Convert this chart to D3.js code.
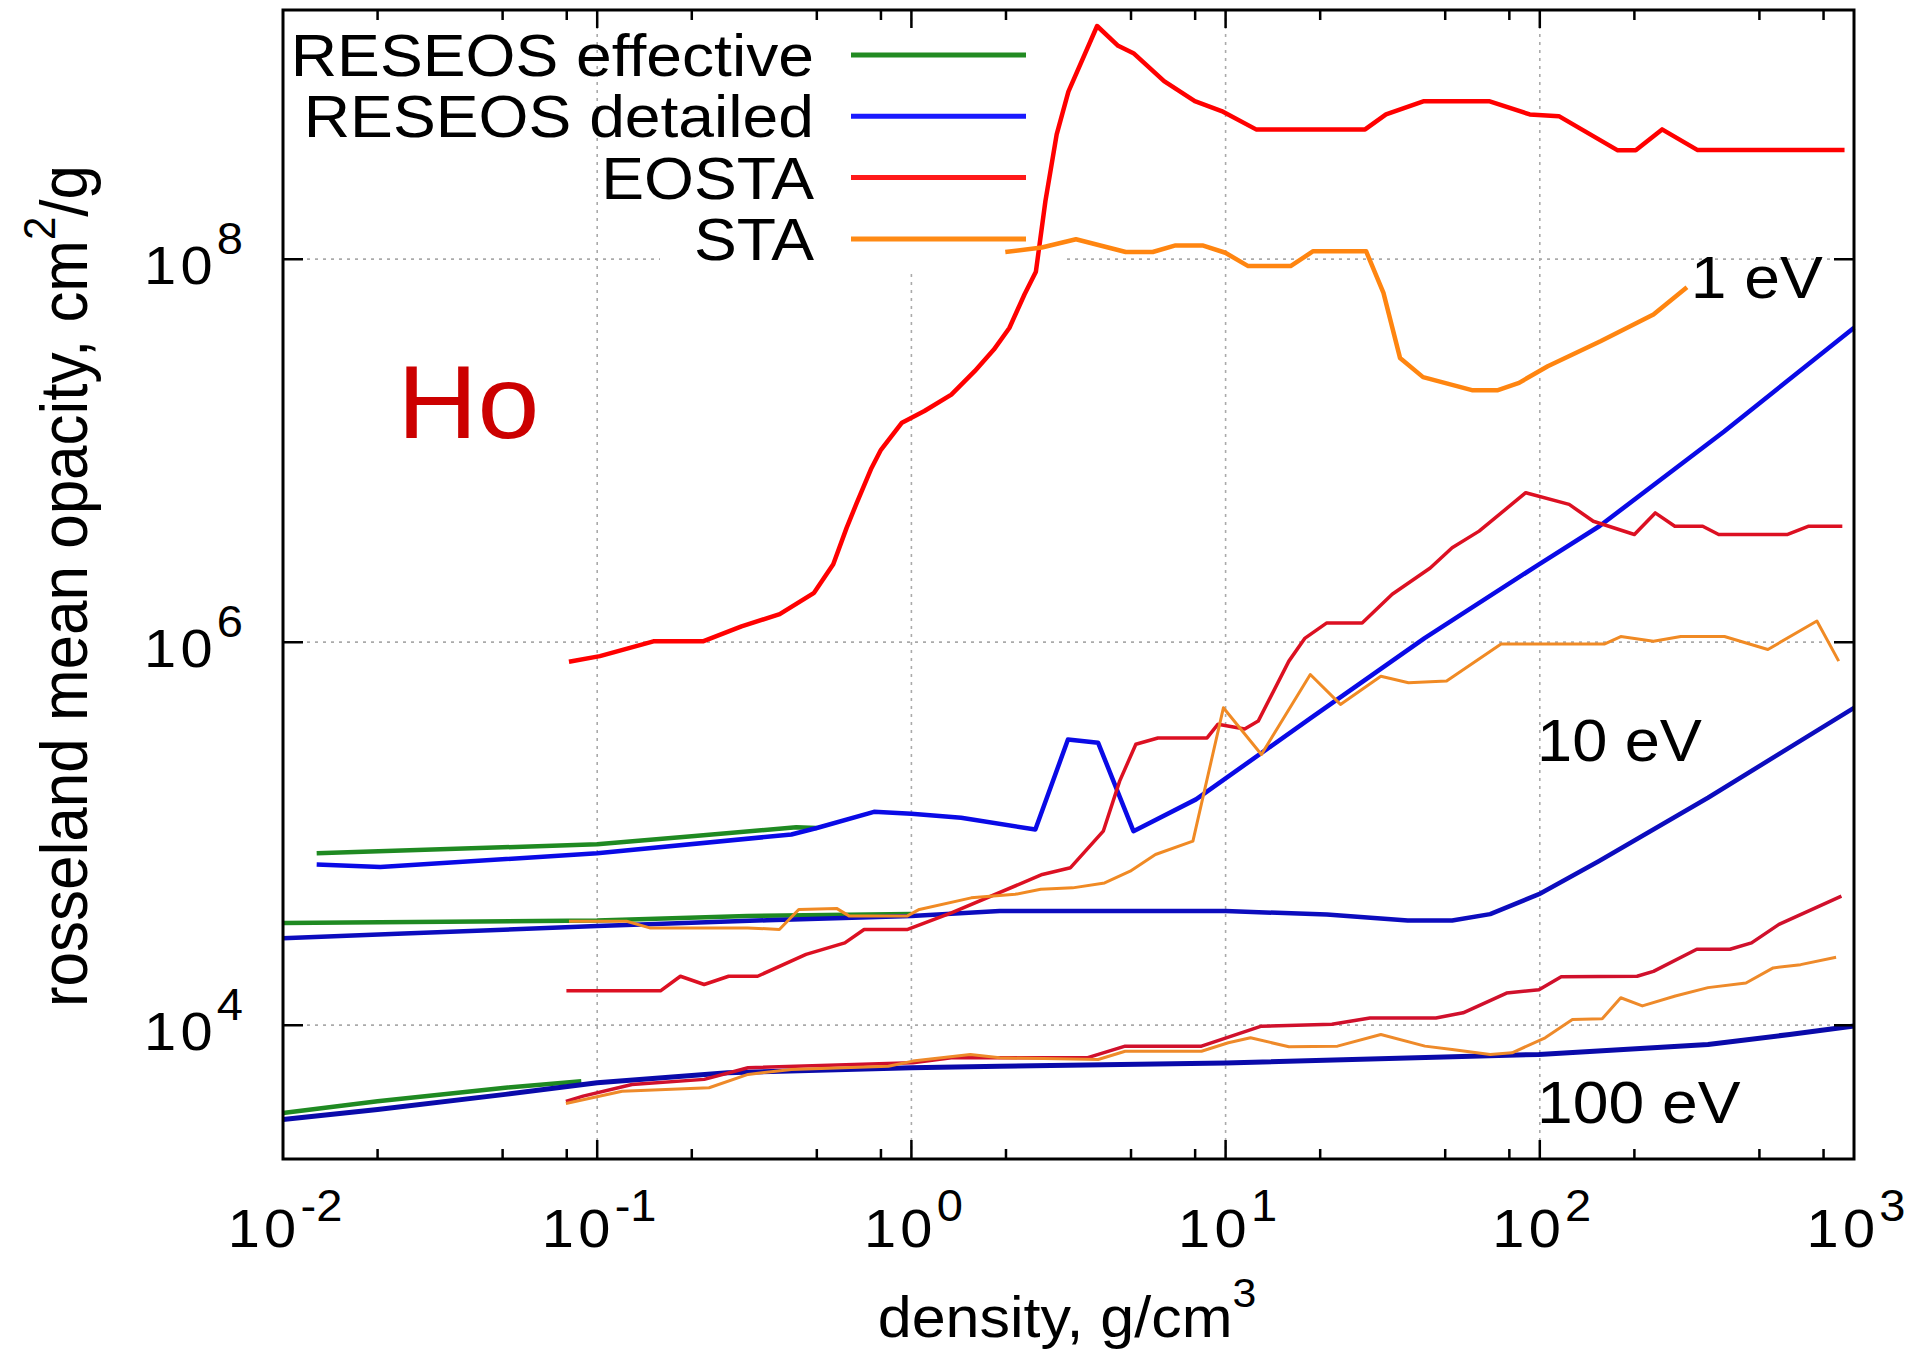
<!DOCTYPE html>
<html>
<head>
<meta charset="utf-8">
<script src="https://cdn.jsdelivr.net/npm/d3@7"></script>
<style>
  body { margin: 0; background: #fff; }
  svg { display: block; font-family: "Liberation Sans", Arial, sans-serif; }
</style>
</head>
<body>
<div id="chart"></div>
<script>
const densityTicks = [1e-2, 1e-1, 1e0, 1e1, 1e2, 1e3]
const densityTickExps = ['-2', '-1', '0', '1', '2', '3']
const minorMultipliers = [2, 5, 8]
const opacityTicks = [1e4, 1e6, 1e8]
const opacityTickExps = ['4', '6', '8']
const seriesNames = ['RESEOS effective', 'RESEOS detailed', 'EOSTA', 'STA']
const temperatureLabels = ['1 eV', '10 eV', '100 eV']
const elementName = 'Ho'

// [density g/cm3, rosseland opacity cm2/g]
const effective1eV = [[0.0128, 7.9e4], [0.1, 8.8e4], [0.2, 9.7e4], [0.43, 1.08e5], [0.5, 1.07e5]]
const detailed1eV = [[0.0128, 6.9e4], [0.0204, 6.7e4], [0.1, 7.9e4], [0.415, 9.9e4], [0.5, 1.07e5],
  [0.76, 1.30e5], [1.0, 1.27e5], [1.44, 1.21e5], [2.48, 1.05e5], [3.15, 3.1e5], [3.93, 2.98e5],
  [5.09, 1.03e5], [8.05, 1.51e5], [18.6, 4.0e5], [43, 1.05e6], [99.4, 2.55e6], [155, 4.04e6],
  [386, 1.26e7], [1000, 4.38e7]]
const eosta1eV = [[0.0813, 7.9e5], [0.102, 8.45e5], [0.151, 1.01e6], [0.217, 1.01e6], [0.288, 1.21e6],
  [0.381, 1.40e6], [0.49, 1.81e6], [0.564, 2.55e6], [0.622, 3.95e6], [0.667, 5.24e6], [0.746, 8.1e6],
  [0.80, 1.01e7], [0.933, 1.40e7], [1.10, 1.61e7], [1.34, 1.96e7], [1.59, 2.6e7], [1.83, 3.37e7],
  [2.05, 4.37e7], [2.29, 6.54e7], [2.49, 8.6e7], [2.67, 2.01e8], [2.90, 4.48e8], [3.16, 7.5e8],
  [3.90, 1.65e9], [4.55, 1.30e9], [5.09, 1.19e9], [6.37, 8.5e8], [7.98, 6.68e8], [9.71, 5.93e8],
  [12.5, 4.76e8], [27.8, 4.76e8], [32.4, 5.7e8], [42.8, 6.68e8], [68.9, 6.68e8], [92.9, 5.7e8],
  [115, 5.58e8], [177, 3.70e8], [202, 3.70e8], [245, 4.76e8], [318, 3.71e8], [933, 3.71e8]]
const sta1eV = [[1.99, 1.09e8], [2.60, 1.15e8], [3.34, 1.27e8], [4.81, 1.09e8], [5.86, 1.09e8],
  [6.93, 1.18e8], [8.44, 1.18e8], [9.98, 1.08e8], [11.8, 9.2e7], [16.1, 9.2e7], [19.0, 1.10e8],
  [28.0, 1.10e8], [31.8, 6.67e7], [35.9, 3.05e7], [42.5, 2.42e7], [60.8, 2.07e7], [73.6, 2.07e7],
  [85.9, 2.26e7], [106, 2.76e7], [156, 3.73e7], [230, 5.14e7], [294, 7.14e7]]

const effective10eV = [[0.01, 3.42e4], [0.1, 3.52e4], [0.3, 3.72e4], [0.46, 3.75e4], [1.0, 3.8e4]]
const detailed10eV = [[0.01, 2.84e4], [0.0243, 3.01e4], [0.1, 3.29e4], [0.347, 3.53e4], [1, 3.71e4],
  [1.91, 3.94e4], [10, 3.94e4], [21, 3.78e4], [38, 3.52e4], [52.6, 3.52e4], [69.5, 3.8e4],
  [99.4, 4.83e4], [154, 7.18e4], [343, 1.54e5], [1000, 4.54e5]]
const eosta10eV = [[0.0798, 1.51e4], [0.159, 1.51e4], [0.184, 1.80e4], [0.219, 1.63e4], [0.262, 1.80e4],
  [0.324, 1.80e4], [0.462, 2.34e4], [0.614, 2.69e4], [0.707, 3.16e4], [0.973, 3.16e4], [1.34, 3.86e4],
  [2.61, 6.12e4], [3.21, 6.64e4], [4.08, 1.03e5], [4.6, 1.88e5], [5.18, 2.93e5], [6.09, 3.16e5],
  [8.73, 3.16e5], [9.46, 3.73e5], [11.5, 3.52e5], [12.7, 3.87e5], [15.9, 7.96e5], [17.9, 1.05e6],
  [21.0, 1.26e6], [27.2, 1.26e6], [33.9, 1.78e6], [44.8, 2.44e6], [52.6, 3.11e6], [64.1, 3.80e6],
  [90.2, 6.03e6], [124, 5.24e6], [148, 4.28e6], [200, 3.65e6], [233, 4.73e6], [269, 4.03e6],
  [330, 4.03e6], [371, 3.65e6], [615, 3.65e6], [718, 4.03e6], [918, 4.03e6]]
const sta10eV = [[0.0813, 3.49e4], [0.124, 3.49e4], [0.147, 3.22e4], [0.301, 3.22e4], [0.38, 3.16e4],
  [0.438, 4.02e4], [0.578, 4.07e4], [0.635, 3.71e4], [0.968, 3.71e4], [1.06, 4.02e4], [1.55, 4.62e4],
  [2.14, 4.82e4], [2.58, 5.12e4], [3.26, 5.21e4], [4.12, 5.53e4], [4.97, 6.37e4], [5.98, 7.78e4],
  [7.87, 9.14e4], [9.84, 4.54e5], [13.0, 2.59e5], [18.6, 6.78e5], [23.2, 4.73e5], [31.2, 6.64e5],
  [38.2, 6.14e5], [50.5, 6.26e5], [75.3, 9.79e5], [161, 9.79e5], [181, 1.07e6], [230, 1.01e6],
  [281, 1.07e6], [387, 1.07e6], [532, 9.16e5], [762, 1.29e6], [894, 7.96e5]]

const effective100eV = [[0.01, 3.48e3], [0.02, 4.0e3], [0.051, 4.71e3], [0.089, 5.1e3]]
const detailed100eV = [[0.01, 3.22e3], [0.02, 3.63e3], [0.051, 4.35e3], [0.1, 5.0e3], [0.26, 5.64e3],
  [1.0, 5.99e3], [1.91, 6.1e3], [10, 6.35e3], [99.4, 7.03e3], [343, 7.93e3], [624, 8.94e3], [1000, 9.9e3]]
const eosta100eV = [[0.0795, 4.0e3], [0.0902, 4.26e3], [0.129, 4.90e3], [0.219, 5.21e3], [0.302, 5.99e3],
  [1.01, 6.36e3], [1.34, 6.75e3], [3.62, 6.75e3], [4.79, 7.77e3], [8.38, 7.77e3], [13.0, 9.88e3],
  [21.8, 1.01e4], [28.8, 1.09e4], [46.7, 1.09e4], [57.0, 1.16e4], [78.4, 1.47e4], [99.4, 1.53e4],
  [117, 1.79e4], [204, 1.80e4], [230, 1.91e4], [316, 2.49e4], [403, 2.49e4], [472, 2.69e4],
  [577, 3.36e4], [912, 4.72e4]]
const sta100eV = [[0.0795, 3.9e3], [0.12, 4.52e3], [0.227, 4.71e3], [0.302, 5.53e3], [0.415, 5.87e3],
  [0.845, 6.1e3], [1.01, 6.49e3], [1.54, 7.03e3], [1.91, 6.75e3], [3.93, 6.62e3], [4.79, 7.31e3],
  [8.38, 7.31e3], [10.2, 8.09e3], [12.0, 8.59e3], [15.9, 7.71e3], [22.7, 7.77e3], [31.2, 8.94e3],
  [43.1, 7.77e3], [52.6, 7.46e3], [69.5, 7.03e3], [81.6, 7.17e3], [104, 8.59e3], [127, 1.07e4],
  [158, 1.08e4], [181, 1.39e4], [212, 1.26e4], [270, 1.42e4], [343, 1.57e4], [453, 1.66e4],
  [553, 1.99e4], [676, 2.07e4], [877, 2.26e4]]

const margin = { top: 10, right: 69, bottom: 191, left: 283 }
const width = 1923 - margin.left - margin.right
const height = 1350 - margin.top - margin.bottom

// the source picture is a little wider than tall, so glyphs get stretched too
const stretch = 1.07

const legendColors = ['#228b22', '#1a1aff', '#ff1a1a', '#ff8a14']
const curveColors = [
  ['#1f8a22', '#1f8a22', '#1f8a22'],
  ['#0a0ae6', '#0c0cbe', '#0a0aaa'],
  ['#ff0000', '#dc1022', '#d0102c'],
  ['#ff8510', '#f08a24', '#ee8a2a']
]
const curveWidths = [
  [4.5, 4.5, 4.5],
  [4.5, 4.5, 5],
  [4.5, 3.5, 3.5],
  [4.5, 3, 3]
]

const curves = [
  { data: effective1eV, series: 0, temp: 0 },
  { data: effective10eV, series: 0, temp: 1 },
  { data: effective100eV, series: 0, temp: 2 },
  { data: detailed1eV, series: 1, temp: 0 },
  { data: detailed10eV, series: 1, temp: 1 },
  { data: detailed100eV, series: 1, temp: 2 },
  { data: eosta1eV, series: 2, temp: 0 },
  { data: eosta10eV, series: 2, temp: 1 },
  { data: eosta100eV, series: 2, temp: 2 },
  { data: sta1eV, series: 3, temp: 0 },
  { data: sta10eV, series: 3, temp: 1 },
  { data: sta100eV, series: 3, temp: 2 }
]

const svg = d3.select('#chart').append('svg')
  .attr('width', width + margin.left + margin.right)
  .attr('height', height + margin.top + margin.bottom)

const plot = svg.append('g')
  .attr('transform', `translate(${margin.left}, ${margin.top})`)

const x = d3.scaleLog().domain([1e-2, 1e3]).range([0, width])
const y = d3.scaleLog().domain([2e3, 2e9]).range([height, 0])

const addText = (parent, px, py, anchor, size) => parent.append('text')
  .attr('transform', `translate(${px}, ${py}) scale(${stretch}, 1)`)
  .attr('text-anchor', anchor)
  .attr('font-size', size)
  .attr('fill', '#000')

// grid
const grid = plot.append('g')
  .attr('stroke', '#aaaaaa')
  .attr('stroke-width', 1.6)
  .attr('stroke-dasharray', '3,5')
grid.selectAll('vgrid').data(densityTicks.slice(1, -1))
  .enter().append('line')
    .attr('x1', d => x(d)).attr('x2', d => x(d))
    .attr('y1', 0).attr('y2', height)
grid.selectAll('hgrid').data(opacityTicks)
  .enter().append('line')
    .attr('x1', 0).attr('x2', width)
    .attr('y1', d => y(d)).attr('y2', d => y(d))

// key area blanks the grid behind it
plot.append('rect')
  .attr('x', 377).attr('y', 12)
  .attr('width', 402).attr('height', 248)
  .attr('fill', '#fff')

const line = d3.line()
  .x(d => x(d[0]))
  .y(d => y(d[1]))

plot.selectAll('curves').data(curves)
  .enter().append('path')
    .attr('d', d => line(d.data))
    .attr('fill', 'none')
    .attr('stroke', d => curveColors[d.series][d.temp])
    .attr('stroke-width', d => curveWidths[d.series][d.temp])
    .attr('stroke-linejoin', 'round')

// border and ticks
plot.append('rect')
  .attr('width', width).attr('height', height)
  .attr('fill', 'none')
  .attr('stroke', '#000')
  .attr('stroke-width', 3)

const minorTicks = []
densityTicks.slice(0, -1).forEach(t => minorMultipliers.forEach(m => minorTicks.push(t * m)))

const ticks = plot.append('g').attr('stroke', '#000').attr('stroke-width', 2.5)
ticks.selectAll('xmajor').data(densityTicks.slice(1, -1))
  .enter().append('path')
    .attr('d', d => `M${x(d)},${height}v-19M${x(d)},0v18`)
ticks.selectAll('xminor').data(minorTicks)
  .enter().append('path')
    .attr('d', d => `M${x(d)},${height}v-10M${x(d)},0v10`)
ticks.selectAll('ymajor').data(opacityTicks)
  .enter().append('path')
    .attr('d', d => `M0,${y(d)}h20M${width},${y(d)}h-20`)

// tick labels, gnuplot style 10^n
densityTicks.forEach((t, i) => {
  const label = addText(plot, x(t) + 2, height + 88, 'middle', 54)
  label.append('tspan').attr('letter-spacing', 4).text('10')
  label.append('tspan').attr('dy', -26).attr('font-size', 44).text(densityTickExps[i])
})
opacityTicks.forEach((t, i) => {
  const label = addText(plot, -40, y(t) + 25, 'end', 54)
  label.append('tspan').attr('letter-spacing', 4).text('10')
  label.append('tspan').attr('dy', -30).attr('font-size', 44).text(opacityTickExps[i])
})

// axis titles
const xTitle = addText(svg, 1067, 1337, 'middle', 57)
xTitle.append('tspan').text('density, g/cm')
xTitle.append('tspan').attr('dy', -30).attr('font-size', 40).text('3')

svg.append('text')
  .attr('transform', `translate(87, 586) scale(${stretch}, 1) rotate(-90)`)
  .attr('text-anchor', 'middle')
  .attr('font-size', 62)
  .call(t => {
    t.append('tspan').text('rosseland mean opacity, cm')
    t.append('tspan').attr('dy', -30).attr('font-size', 42).text('2')
    t.append('tspan').attr('dy', 30).text('/g')
  })

// legend
const legend = svg.append('g')
seriesNames.forEach((name, i) => {
  addText(legend, 814, 76 + i * 61.3, 'end', 60).text(name)
  legend.append('line')
    .attr('x1', 851).attr('x2', 1026)
    .attr('y1', 55 + i * 61.3).attr('y2', 55 + i * 61.3)
    .attr('stroke', legendColors[i])
    .attr('stroke-width', 5)
})

// temperature labels and element name
addText(plot, x(796), y(6.3e7), 'end', 60).text(temperatureLabels[0])
addText(plot, x(98), y(2.4e5), 'start', 59).text(temperatureLabels[1])
addText(plot, x(98), y(3.09e3), 'start', 60).text(temperatureLabels[2])
addText(plot, x(0.0231), y(1.16e7), 'start', 104).attr('fill', '#cc0000').text(elementName)
</script>
</body>
</html>
